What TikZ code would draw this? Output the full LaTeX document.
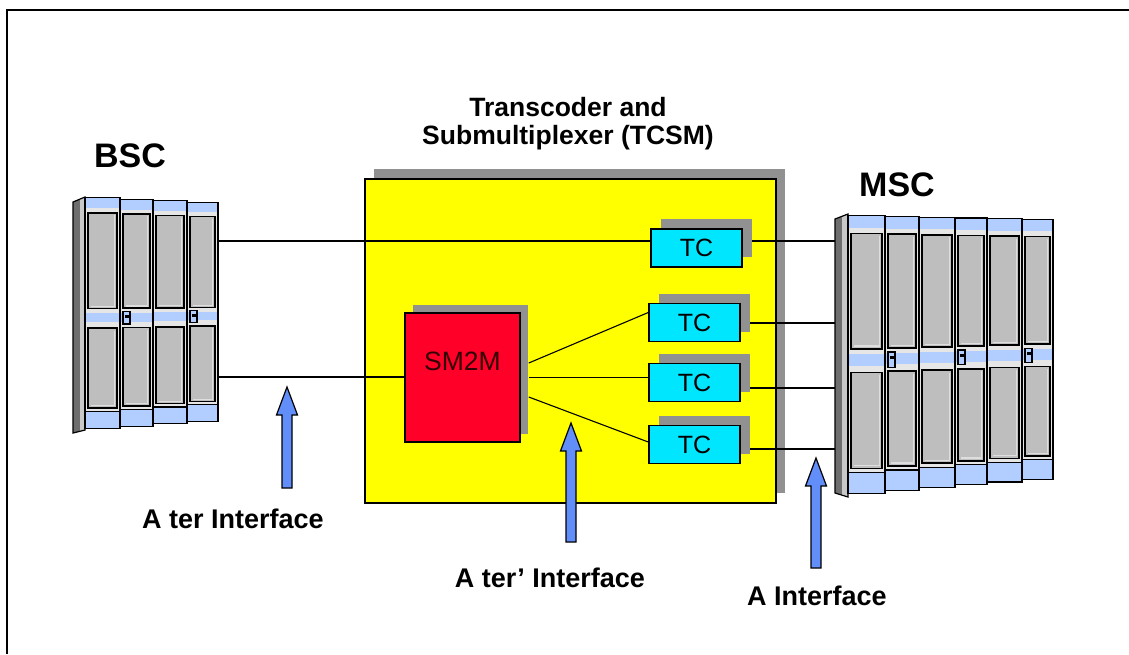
\documentclass[tikz,border=0pt]{standalone}
\usepackage{fontspec}
\setmainfont{Liberation Sans}
\usetikzlibrary{shadows}
\pgfdeclarelayer{back}
\pgfdeclarelayer{mid}
\pgfsetlayers{back,mid,main}

\definecolor{shgray}{RGB}{145,145,145}
\definecolor{tcsmyellow}{RGB}{255,255,0}
\definecolor{smred}{RGB}{255,0,40}
\definecolor{smtext}{RGB}{50,0,5}
\definecolor{tccyan}{RGB}{0,230,255}
\definecolor{cabblue}{RGB}{178,205,255}
\definecolor{cabframe}{RGB}{230,230,230}
\definecolor{cabpanel}{RGB}{190,190,190}
\definecolor{cabhl}{RGB}{222,222,222}
\definecolor{sidedark}{RGB}{110,110,110}
\definecolor{sidelight}{RGB}{200,200,200}
\definecolor{arrowblue}{RGB}{98,142,250}

% one door column of a rack cabinet: left x, right x, top y, bottom y, latch flag
\newcommand{\cabcol}[5]{%
  \pgfmathsetmacro\cabh{#4-#3}%
  \fill[cabframe] (#1,#3) rectangle (#2,#4);
  \fill[cabblue] (#1,#3) rectangle (#2,#3+0.045*\cabh);
  \fill[cabblue] (#1,#3+0.50*\cabh) rectangle (#2,#3+0.54*\cabh);
  \fill[cabblue] (#1,#3+0.925*\cabh) rectangle (#2,#4);
  \draw[cabline] (#1,#3+0.925*\cabh) -- (#2,#3+0.925*\cabh);
  \draw[door] (#1+3,#3+0.065*\cabh) rectangle (#2-3,#3+0.48*\cabh);
  \draw[door] (#1+3,#3+0.565*\cabh) rectangle (#2-3,#3+0.91*\cabh);
  \draw[cabhl,line width=1.3pt] (#2-5.5,#3+0.075*\cabh) -- (#2-5.5,#3+0.47*\cabh) -- (#1+6,#3+0.47*\cabh);
  \draw[cabhl,line width=1.3pt] (#2-5.5,#3+0.575*\cabh) -- (#2-5.5,#3+0.90*\cabh) -- (#1+6,#3+0.90*\cabh);
  \draw[cabline] (#1,#3) rectangle (#2,#4);
  \ifnum#5=1
    \draw[cabline,fill=cabblue] (#1+3,#3+0.495*\cabh) rectangle (#1+10,#3+0.55*\cabh);
    \fill[black] (#1+4.5,#3+0.51*\cabh) rectangle (#1+8.5,#3+0.522*\cabh);
  \fi
}

% upward block arrow: x, tip y, tail y
\newcommand{\blockup}[3]{%
  \draw[blockarrow] (#1-5,#3) -- (#1-5,#2+28) -- (#1-10.5,#2+28) -- (#1,#2)
    -- (#1+10.5,#2+28) -- (#1+5,#2+28) -- (#1+5,#3) -- cycle;
}

\begin{document}
\begin{tikzpicture}[x=1pt,y=-1pt,
  cabline/.style={draw=black,line width=1.2pt},
  door/.style={draw=black,line width=1.6pt,fill=cabpanel},
  blockarrow/.style={draw=black,line width=1.2pt,fill=arrowblue,line join=miter},
  link/.style={draw=black,line width=1.1pt},
  ifl/.style={font=\fontsize{27}{32}\selectfont\bfseries,inner sep=0pt},
  biglbl/.style={font=\fontsize{34}{40}\selectfont\bfseries,inner sep=0pt},
  tcsmbox/.style={draw=black,line width=1.6pt,fill=tcsmyellow,
    minimum width=411pt,minimum height=324pt,inner sep=0pt,
    drop shadow={shadow xshift=9pt,shadow yshift=10pt,fill=shgray,opacity=1}},
  smbox/.style={draw=black,line width=1.5pt,fill=smred,text=smtext,
    minimum width=115pt,minimum height=129pt,inner sep=0pt,
    text height=19pt,text depth=34pt,font=\fontsize{26.5}{30}\selectfont,
    drop shadow={shadow xshift=8pt,shadow yshift=8pt,fill=shgray,opacity=1}},
  tcbox/.style={draw=black,line width=1.5pt,fill=tccyan,
    minimum width=91pt,minimum height=38pt,inner sep=0pt,
    font=\fontsize{25}{30}\selectfont,
    drop shadow={shadow xshift=10pt,shadow yshift=10pt,fill=shgray,opacity=1}}]

\useasboundingbox (0,0) rectangle (1129,654);

% ---------- TCSM enclosure (bottom layer) ----------
\begin{pgfonlayer}{back}
  \fill[white] (0,0) rectangle (1129,654);
  \node[tcsmbox] (tcsm) at (570.5,341) {};
\end{pgfonlayer}

% page frame
\draw[line width=2pt] (7,654) -- (7,10) -- (1129,10);

% ---------- BSC cabinet ----------
\fill[sidedark] (73,202) -- (85,197) -- (85,430) -- (73,433) -- cycle;
\fill[sidelight] (80,199) -- (85,197) -- (85,430) -- (80,431) -- cycle;
\draw[cabline] (73,202) -- (85,197) -- (85,430) -- (73,433) -- cycle;
\foreach \xl/\xr/\lt in {85/120/0,120/153/1,153/187/0,187/218/1}{
  \pgfmathsetmacro\cabtop{197+6*((\xl+\xr)/2-85)/133}
  \pgfmathsetmacro\cabbot{430-10*((\xl+\xr)/2-85)/133}
  \cabcol{\xl}{\xr}{\cabtop}{\cabbot}{\lt}
}
\coordinate (bsc-p1) at (218,241);
\coordinate (bsc-p2) at (218,377);

% ---------- MSC cabinet ----------
\fill[sidedark] (835,219) -- (848,214) -- (848,497) -- (835,493) -- cycle;
\fill[sidelight] (842,216) -- (848,214) -- (848,497) -- (842,495) -- cycle;
\draw[cabline] (835,219) -- (848,214) -- (848,497) -- (835,493) -- cycle;
\foreach \xl/\xr/\lt in {848/885/0,885/919/1,919/955/0,955/987/1,987/1022/0,1022/1053/1}{
  \pgfmathsetmacro\cabtop{215+5*((\xl+\xr)/2-848)/205}
  \pgfmathsetmacro\cabbot{495-17*((\xl+\xr)/2-848)/205}
  \cabcol{\xl}{\xr}{\cabtop}{\cabbot}{\lt}
}
\coordinate (msc-p1) at (835,241);
\coordinate (msc-p2) at (835,323);
\coordinate (msc-p3) at (835,388);
\coordinate (msc-p4) at (835,449);

% ---------- TCSM contents ----------
\node[font=\fontsize{26.5}{28}\selectfont\bfseries,align=center,inner sep=0pt,anchor=north]
  (tcsmtitle) at (568,97.5) {Transcoder and\\Submultiplexer (TCSM)};

\node[smbox] (sm) at (462.5,377.5) {SM2M};
\node[tcbox] (tc1) at (696.5,248) {TC};
\node[tcbox] (tc2) at (694.5,322.5) {TC};
\node[tcbox] (tc3) at (694.5,382.5) {TC};
\node[tcbox] (tc4) at (694.5,444.5) {TC};

\coordinate (sm-o1) at ([xshift=8pt,yshift=14.5pt]sm.east);
\coordinate (sm-o2) at ([xshift=8pt]sm.east);
\coordinate (sm-o3) at ([xshift=8pt,yshift=-19.5pt]sm.east);

% ---------- links ----------
\begin{pgfonlayer}{mid}
  \draw[link] (bsc-p1) -- (tc1.center |- bsc-p1);
  \draw[link] (bsc-p2) -- (bsc-p2 -| sm.west);
  \draw[link] (sm-o1) -- ([yshift=10pt]tc2.west);
  \draw[link] (sm-o2) -- (tc3.center |- sm-o2);
  \draw[link] (sm-o3) -- ([yshift=2.5pt]tc4.west);
  \draw[link] (tc1.center |- msc-p1) -- (msc-p1);
  \draw[link] (tc2.center |- msc-p2) -- (msc-p2);
  \draw[link] (tc3.center |- msc-p3) -- (msc-p3);
  \draw[link] (tc4.center |- msc-p4) -- (msc-p4);
\end{pgfonlayer}

% ---------- interface arrows ----------
\blockup{287}{387}{488}
\blockup{571}{423}{542}
\blockup{816}{458}{568}

% ---------- labels ----------
\node[biglbl,anchor=base] (lab-bsc) at (130,167) {BSC};
\node[biglbl,anchor=base] (lab-msc) at (897,196) {MSC};
\node[ifl,anchor=base] (lab-ater) at (233,528) {A ter Interface};
\node[ifl,anchor=base] (lab-aterp) at (550,587) {A ter' Interface};
\node[ifl,anchor=base] (lab-a) at (817,605) {A Interface};

\end{tikzpicture}
\end{document}
